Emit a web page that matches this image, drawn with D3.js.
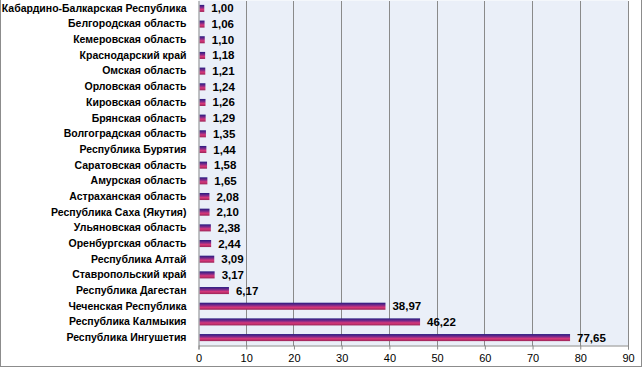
<!DOCTYPE html>
<html><head><meta charset="utf-8">
<script src="https://cdn.jsdelivr.net/npm/d3@7"></script>
<style>body{margin:0;background:#fff}svg{display:block}</style>
</head><body><svg id="c" width="643" height="369"></svg>
<script>
const categories = ["Кабардино-Балкарская Республика","Белгородская область","Кемеровская область","Краснодарский край","Омская область","Орловская область","Кировская область","Брянская область","Волгоградская область","Республика Бурятия","Саратовская область","Амурская область","Астраханская область","Республика Саха (Якутия)","Ульяновская область","Оренбургская область","Республика Алтай","Ставропольский край","Республика Дагестан","Чеченская Республика","Республика Калмыкия","Республика Ингушетия"];
const values = [1.00,1.06,1.10,1.18,1.21,1.24,1.26,1.29,1.35,1.44,1.58,1.65,2.08,2.10,2.38,2.44,3.09,3.17,6.17,38.97,46.22,77.65];
const xTicks = [0,10,20,30,40,50,60,70,80,90];

const svg = d3.select("#c");
const m = {l:198.5, r:628, t:0.5, b:345.5};
svg.append("rect").attr("x",0.5).attr("y",-2).attr("width",641).attr("height",368.5)
  .attr("fill","#fff").attr("stroke","#8c8c8c");
const defs = svg.append("defs");
const g = defs.append("linearGradient").attr("id","bg").attr("x1",0).attr("y1",0).attr("x2",0).attr("y2",1);
g.append("stop").attr("offset","0%").attr("stop-color","#241a80");
g.append("stop").attr("offset","35%").attr("stop-color","#7a2a8a");
g.append("stop").attr("offset","65%").attr("stop-color","#d8387a");
g.append("stop").attr("offset","100%").attr("stop-color","#9a2458");

const x = d3.scaleLinear().domain([0,90]).range([m.l,m.r]);
const y = d3.scaleBand().domain(categories).range([m.t,m.b]).paddingInner(0.55).paddingOuter(0.28);

svg.append("rect").attr("x",m.l).attr("y",m.t).attr("width",m.r-m.l).attr("height",m.b-m.t).attr("fill","#eaeff8");
svg.append("g").selectAll("line").data(xTicks.slice(1)).join("line")
  .attr("x1",d=>x(d)).attr("x2",d=>x(d)).attr("y1",m.t).attr("y2",m.b)
  .attr("stroke","#8a8a8a").attr("stroke-width",1).attr("shape-rendering","crispEdges");

svg.append("g").selectAll("rect").data(values).join("rect")
  .attr("x",x(0)+1).attr("y",(d,i)=>y(categories[i]))
  .attr("width",d=>x(d)-x(0)).attr("height",y.bandwidth())
  .attr("fill","url(#bg)");

svg.append("g").selectAll("text").data(values).join("text")
  .attr("x",d=>x(d)+8).attr("y",(d,i)=>y(categories[i])+y.bandwidth()/2)
  .attr("dy","0.35em").attr("font-family","Liberation Sans, Arial, sans-serif")
  .attr("font-size",11.5).attr("font-weight","bold").attr("fill","#000")
  .text(d=>d3.format(".2f")(d).replace(".",","));

const ya = svg.append("g").attr("transform",`translate(${m.l},0)`)
  .call(d3.axisLeft(y).tickSize(0).tickPadding(12));
ya.select(".domain").attr("stroke","#8a8a8a");
ya.selectAll("text").attr("font-family","Liberation Sans, Arial, sans-serif").attr("font-size",10.5).attr("font-weight","bold").attr("fill","#000");

const xa = svg.append("g").attr("transform",`translate(0,${m.b})`)
  .call(d3.axisBottom(x).tickValues(xTicks).tickSize(4).tickPadding(5).tickFormat(d3.format("d")));
xa.select(".domain").attr("stroke","#8a8a8a");
xa.selectAll(".tick line").attr("stroke","#8a8a8a");
xa.selectAll("text").attr("font-family","Liberation Sans, Arial, sans-serif").attr("font-size",11).attr("fill","#000");
</script></body></html>
